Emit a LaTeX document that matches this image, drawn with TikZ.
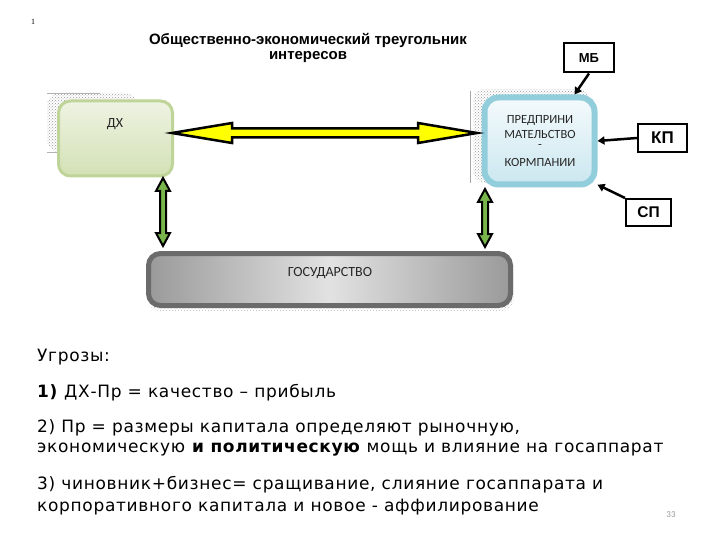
\documentclass[tikz,border=0pt]{standalone}
\usepackage{fontspec}
\setmainfont{DejaVu Sans}[LetterSpace=4]
\newfontfamily\boxfont{Carlito}
\newfontfamily\arialfont{Liberation Sans}
\newfontfamily\serifont{Liberation Serif}
\usetikzlibrary{patterns,calc,arrows.meta}
\definecolor{dxrim}{HTML}{BFD498}
\definecolor{dxin}{HTML}{EEF3E2}
\definecolor{dxlow}{HTML}{D3E1B5}
\definecolor{blrim}{HTML}{92CDDC}
\definecolor{blin}{HTML}{F4FAFC}
\definecolor{bllow}{HTML}{CBE7F0}
\definecolor{grrim}{HTML}{6B6B6B}
\definecolor{grA}{HTML}{9A9A9A}
\definecolor{grB}{HTML}{E2E2E2}
\definecolor{arrgreen}{HTML}{78B64C}
\definecolor{arryel}{HTML}{FFFF00}
\tikzset{
  shadowbox/.style={pattern=crosshatch dots, pattern color=gray!80, draw=none, rounded corners=12pt},
  labelbox/.style={draw=black, line width=2pt, fill=white, inner sep=0pt},
  pointer/.style={draw=black, line width=2.5pt, -{Triangle[length=7pt,width=8pt]}},
  bigarrow/.style={draw=black, line width=2.5pt, line join=miter},
  boxtext/.style={font=\boxfont\fontsize{12.5}{14}\selectfont, text=black!85},
  bodytext/.style={anchor=west, font=\fontsize{17}{20}\selectfont, inner sep=0pt}
}
\begin{document}
\begin{tikzpicture}[x=1pt,y=-1pt]
\useasboundingbox (0,0) rectangle (720,540);
\fill[white] (0,0) rectangle (720,540);

% page marker
\node[font=\serifont\fontsize{8}{9}\selectfont] (one) at (33,22) {1};

% title
\node[font=\arialfont\bfseries\fontsize{15}{16}\selectfont, align=center] (title) at (308,48) {Общественно-экономический треугольник\\[-1pt]интересов};

% DX box
\fill[shadowbox] (47,93) rectangle (137,152);
\draw[gray!60, line width=0.6pt] (47,93) -- (100,93);
\draw[gray!60, line width=0.6pt] (47,152) -- (60,152);
\node[draw=dxrim, line width=3pt, rounded corners=12pt, top color=dxin, bottom color=dxlow,
      minimum width=114pt, minimum height=75pt] (dx) at (115.5,138.5) {};
\node[boxtext, font=\boxfont\fontsize{14}{16}\selectfont] (dxt) at (115,124) {ДХ};

% Blue box
\fill[shadowbox] (473,89) rectangle (590,183);
\draw[gray!70, line width=0.6pt] (470,91) -- (470,183);
\node[draw=blrim, line width=6pt, rounded corners=14pt, top color=blin, bottom color=bllow,
      minimum width=110pt, minimum height=87pt] (bl) at (539.5,141) {};
\node[boxtext] (b1) at (540,120) {ПРЕДПРИНИ};
\node[boxtext] (b2) at (540,134) {МАТЕЛЬСТВО};
\node[boxtext] (b3) at (540,147) {-};
\node[boxtext] (b4) at (540,162) {КОРМПАНИИ};

% label boxes
\node[labelbox, font=\arialfont\bfseries\fontsize{13}{14}\selectfont, minimum width=50pt, minimum height=29pt] (mb) at (589,58) {МБ};
\node[labelbox, font=\arialfont\bfseries\fontsize{17}{18}\selectfont, minimum width=49pt, minimum height=28pt] (kp) at (662.5,138) {КП};
\node[labelbox, font=\arialfont\bfseries\fontsize{15.5}{17}\selectfont, minimum width=45pt, minimum height=27pt] (sp) at (648.5,212.5) {СП};

\draw[pointer] (mb.south) -- (bl.53);
\draw[pointer] (kp.west) -- (bl.east);
\draw[pointer] (sp.north west) -- (bl.-37);

% state bar
\fill[pattern=crosshatch dots, pattern color=gray!50, rounded corners=12pt] (148,256) rectangle (514,311);
\node[draw=grrim, line width=5pt, rounded corners=12pt, left color=grA, right color=grA, middle color=grB,
      minimum width=362pt, minimum height=52pt] (gos) at (329.5,279.5) {};
\node[boxtext, font=\boxfont\fontsize{14}{16}\selectfont] (gost) at (330,273) {ГОСУДАРСТВО};

% yellow double arrow
\coordinate (yl) at (172,133);
\coordinate (yr) at (477,133);
\filldraw[bigarrow, fill=arryel] (yl) -- ($(yl)+(60,-10)$) -- ($(yl)+(60,-4.5)$) -- ($(yr)+(-59,-4.5)$) -- ($(yr)+(-59,-10)$)
   -- (yr) -- ($(yr)+(-59,10)$) -- ($(yr)+(-59,4.5)$) -- ($(yl)+(60,4.5)$) -- ($(yl)+(60,10)$) -- cycle;

% green vertical arrows
\coordinate (gl1) at (163,178);
\coordinate (gl2) at (163,246);
\coordinate (gr1) at (485,189);
\coordinate (gr2) at (485,247);
\filldraw[bigarrow, line width=2pt, fill=arrgreen] (gl1) -- ($(gl1)+(7,13)$) -- ($(gl1)+(3,13)$) -- ($(gl2)+(3,-13)$) -- ($(gl2)+(7,-13)$)
   -- (gl2) -- ($(gl2)+(-7,-13)$) -- ($(gl2)+(-3,-13)$) -- ($(gl1)+(-3,13)$) -- ($(gl1)+(-7,13)$) -- cycle;
\filldraw[bigarrow, line width=2pt, fill=arrgreen] (gr1) -- ($(gr1)+(7,13)$) -- ($(gr1)+(3,13)$) -- ($(gr2)+(3,-13)$) -- ($(gr2)+(7,-13)$)
   -- (gr2) -- ($(gr2)+(-7,-13)$) -- ($(gr2)+(-3,-13)$) -- ($(gr1)+(-3,13)$) -- ($(gr1)+(-7,13)$) -- cycle;

% body text
\node[bodytext] (t0) at (37,357) {Угрозы:};
\node[bodytext] (t1) at (37,393) {\textbf{1)} ДХ-Пр = качество – прибыль};
\node[bodytext] (t2) at (37,428) {2) Пр = размеры капитала определяют рыночную,};
\node[bodytext] (t3) at (37,450) {экономическую \textbf{и политическую} мощь и влияние на госаппарат};
\node[bodytext] (t4) at (37,485) {3) чиновник+бизнес= сращивание, слияние госаппарата и};
\node[bodytext] (t5) at (37,507) {корпоративного капитала и новое - аффилирование};

\node[font=\boxfont\fontsize{9}{10}\selectfont, text=gray!80] (pg) at (671,515) {33};
\end{tikzpicture}
\end{document}
